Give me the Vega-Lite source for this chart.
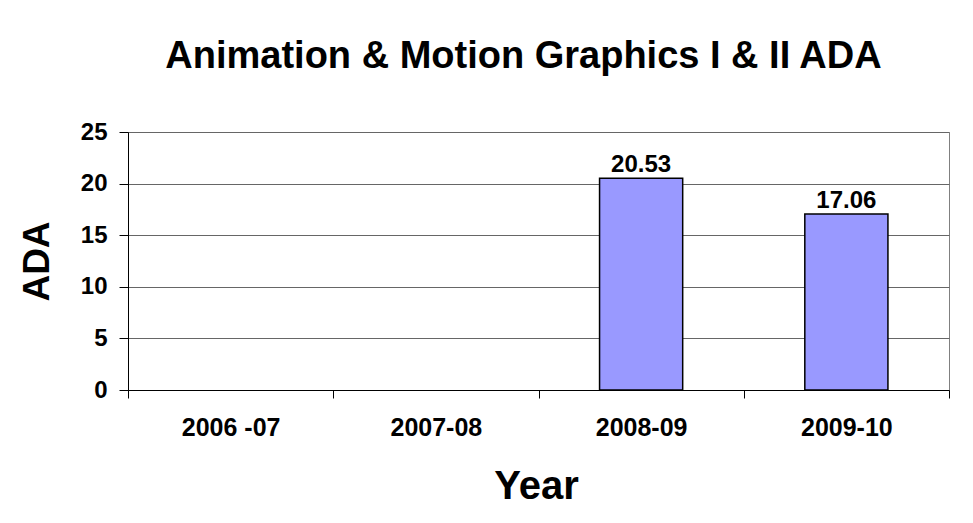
{
  "$schema": "https://vega.github.io/schema/vega-lite/v6.json",
  "autosize": {"type": "none"},
  "width": 821,
  "height": 258,
  "padding": {"left": 128, "top": 132, "right": 24, "bottom": 133},
  "background": "white",
  "title": {
    "text": "Animation & Motion Graphics I & II ADA",
    "font": "Liberation Sans",
    "fontSize": 38,
    "fontWeight": "bold",
    "color": "black",
    "anchor": "middle",
    "frame": "group",
    "baseline": "alphabetic",
    "dx": -15,
    "offset": 14
  },
  "data": {
    "values": [
      {"Year": "2006 -07", "ADA": null},
      {"Year": "2007-08", "ADA": null},
      {"Year": "2008-09", "ADA": 20.53},
      {"Year": "2009-10", "ADA": 17.06}
    ]
  },
  "config": {
    "view": {"stroke": "#808080", "strokeWidth": 1},
    "font": "Liberation Sans"
  },
  "encoding": {
    "x": {
      "field": "Year",
      "type": "nominal",
      "sort": null,
      "scale": {"domain": ["2006 -07", "2007-08", "2008-09", "2009-10"], "paddingInner": 0, "paddingOuter": 0},
      "axis": {
        "title": "Year",
        "titleFont": "Liberation Sans",
        "titleFontSize": 40,
        "titleFontWeight": "bold",
        "titleColor": "black",
        "titleX": 408,
        "titleY": 108,
        "titleAnchor": null,
        "titleAlign": "center",
        "titleBaseline": "alphabetic",
        "labelFont": "Liberation Sans",
        "labelFontSize": 25,
        "labelFontWeight": "bold",
        "labelColor": "black",
        "labelAngle": 0,
        "labelBaseline": "alphabetic",
        "labelPadding": 37,
        "tickBand": "extent",
        "tickSize": 8,
        "tickColor": "black",
        "domainColor": "black",
        "grid": false
      }
    },
    "y": {
      "field": "ADA",
      "type": "quantitative",
      "scale": {"domain": [0, 25], "nice": false},
      "axis": {
        "title": "ADA",
        "titleFont": "Liberation Sans",
        "titleFontSize": 37,
        "titleFontWeight": "bold",
        "titleColor": "black",
        "titleAngle": -90,
        "titleX": -91,
        "titleY": 129,
        "titleAlign": "center",
        "titleBaseline": "middle",
        "values": [0, 5, 10, 15, 20, 25],
        "labelFont": "Liberation Sans",
        "labelFontSize": 24,
        "labelFontWeight": "bold",
        "labelColor": "black",
        "labelPadding": 12,
        "tickSize": 9,
        "tickColor": "black",
        "domainColor": "black",
        "grid": true,
        "gridColor": "#666666",
        "gridWidth": 1
      }
    }
  },
  "layer": [
    {
      "mark": {"type": "bar", "width": {"band": 0.405}, "fill": "#9999FF", "stroke": "black", "strokeWidth": 1.5}
    },
    {
      "mark": {"type": "text", "font": "Liberation Sans", "fontSize": 24, "fontWeight": "bold", "color": "black", "baseline": "alphabetic", "dy": -6},
      "encoding": {"text": {"field": "ADA", "type": "quantitative", "format": ".2f"}}
    }
  ]
}
